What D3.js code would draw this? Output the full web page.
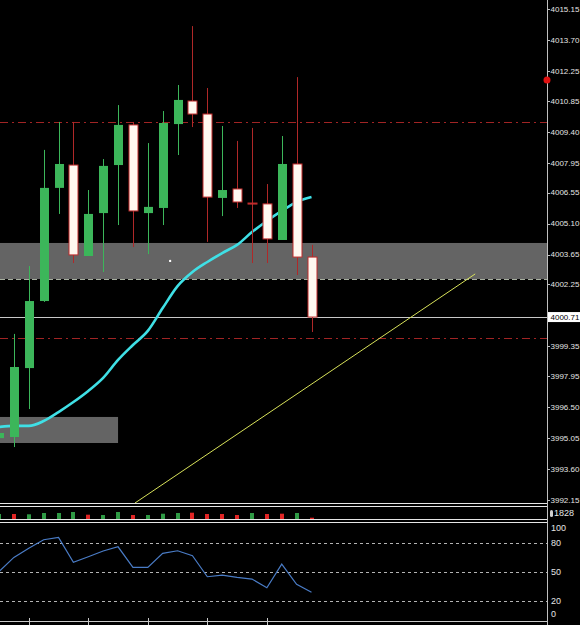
<!DOCTYPE html>
<html>
<head>
<meta charset="utf-8">
<script src="https://cdn.jsdelivr.net/npm/d3@7"></script>
<style>
  body { margin: 0; background: #000; }
  text { font-family: "Liberation Sans", Arial, sans-serif; font-size: 9px; }
  text.price { font-size: 8px; }
</style>
</head>
<body>
<div id="chart"></div>
<script>
// candle data (one bar per period)
var opens  = [3995.05, 3995.10, 3998.33, 4001.47, 4006.77, 4007.84, 4003.58, 4005.59, 4007.84, 4009.72, 4005.59,
              4005.83, 4009.76, 4010.84, 4010.23, 4006.30, 4006.72, 4006.06, 4006.02, 4004.33, 4007.89, 4003.53];
var highs  = [3995.43, 3999.93, 4003.11, 4008.55, 4009.86, 4009.86, 4006.67, 4008.12, 4010.65, 4009.86, 4008.87,
              4010.37, 4011.59, 4014.35, 4011.45, 4009.67, 4008.97, 4009.58, 4006.95, 4009.20, 4011.96, 4004.10];
var lows   = [3994.96, 3994.63, 3996.41, 4001.43, 4005.55, 4003.25, 4003.58, 4002.83, 4005.03, 4004.00, 4003.67,
              4005.03, 4008.31, 4009.62, 4004.24, 4005.45, 4005.83, 4003.25, 4003.25, 4004.33, 4002.69, 4000.02];
var closes = [3995.29, 3998.38, 4001.47, 4006.77, 4007.89, 4003.63, 4005.55, 4007.80, 4009.72, 4005.69, 4005.88,
              4009.81, 4010.89, 4010.23, 4006.34, 4006.67, 4006.11, 4006.02, 4004.38, 4007.89, 4003.53, 4000.72];

// moving average
var maValues = [3995.57, 3995.62, 3995.62, 3995.85, 3996.27, 3996.74, 3997.26, 3997.87, 3998.71, 3999.41, 4000.07,
                4001.14, 4002.17, 4002.83, 4003.30, 4003.72, 4004.10, 4004.70, 4005.22, 4005.69, 4006.11, 4006.34];

// volume panel
var volumes = [1000, 1000, 940, 1200, 1200, 1400, 860, 800, 1400, 800, 800,
               1060, 1200, 1260, 1000, 1000, 800, 1200, 1000, 1060, 1200, 260];
var volumeUp = [1, 0, 1, 1, 1, 1, 0, 1, 1, 0, 1, 1, 1, 0, 0, 0, 0, 1, 0, 0, 1, 0];
var volumeLabel = "1828";

// oscillator panel
var oscValues = [50.4, 65.1, 74.5, 83.4, 85.8, 60.0, 65.8, 71.7, 76.1, 54.8, 54.8,
                 69.3, 72.0, 66.8, 45.1, 46.8, 44.5, 42.7, 33.7, 58.2, 37.2, 29.0];
var oscLevels = [80, 50, 20];
var oscTicks = [100, 80, 50, 20, 0];

// price axis
var priceTicks = [4015.15, 4013.70, 4012.25, 4010.85, 4009.40, 4007.95, 4006.55, 4005.10, 4003.65,
                  4002.25, 3999.35, 3997.95, 3996.50, 3995.05, 3993.60, 3992.15];
var lastPrice = 4000.72;
var lastPriceLabel = "4000.71";
var alertPrice = 4011.82;

// drawn objects
var redLevels = [4009.86, 3999.74];
var upperZone = [4004.19, 4002.50];
var lowerZone = [3996.04, 3994.82, 8];      // top, bottom, end bar
var trendLine = [[9.14, 3992.01], [32.0, 4002.74]];
var marker = [11.5, 4003.35];
var timeTicks = [2, 6, 10, 14, 18];

var W = 580, H = 625, axisX = 547;

var svg = d3.select("#chart").append("svg")
    .attr("width", W).attr("height", H)
    .style("display", "block")
    .style("background", "#000");

var x = d3.scaleLinear().domain([0, 21]).range([-1, 311.5]);
var y = d3.scaleLinear().domain([3992.15, 4015.15]).range([500, 9]);
var yVol = d3.scaleLinear().domain([0, 2400]).range([519, 507]);
var yOsc = d3.scaleLinear().domain([0, 100]).range([620.3, 523.7]);

svg.append("clipPath").attr("id", "mainClip")
    .append("rect").attr("x", 0).attr("y", 0).attr("width", axisX).attr("height", 503);
svg.append("clipPath").attr("id", "oscClip")
    .append("rect").attr("x", 0).attr("y", 522).attr("width", axisX).attr("height", 99);

var main = svg.append("g").attr("clip-path", "url(#mainClip)");

// zones
main.append("rect")
    .attr("x", 0).attr("width", axisX)
    .attr("y", y(upperZone[0])).attr("height", y(upperZone[1]) - y(upperZone[0]))
    .style("fill", "#646464");
main.append("rect")
    .attr("x", 0).attr("width", x(lowerZone[2]))
    .attr("y", y(lowerZone[0])).attr("height", y(lowerZone[1]) - y(lowerZone[0]))
    .style("fill", "#646464");
main.append("line")
    .attr("x1", 0).attr("x2", axisX)
    .attr("y1", Math.round(y(upperZone[1])) + 0.5).attr("y2", Math.round(y(upperZone[1])) + 0.5)
    .style("stroke", "#a8b0a0").style("stroke-dasharray", "5,3");

// red dash-dot levels
main.selectAll(".level")
    .data(redLevels).enter()
    .append("line")
    .attr("x1", 0).attr("x2", axisX)
    .attr("y1", function(d) { return Math.round(y(d)) + 0.5; })
    .attr("y2", function(d) { return Math.round(y(d)) + 0.5; })
    .style("stroke", "#a02424")
    .style("stroke-dasharray", "8,4,2,4");

// last price line
main.append("line")
    .attr("x1", 0).attr("x2", axisX)
    .attr("y1", Math.round(y(lastPrice)) + 0.5).attr("y2", Math.round(y(lastPrice)) + 0.5)
    .style("stroke", "#c8c8c8");

// trend line
main.append("line")
    .attr("x1", x(trendLine[0][0])).attr("y1", y(trendLine[0][1]))
    .attr("x2", x(trendLine[1][0])).attr("y2", y(trendLine[1][1]))
    .style("stroke", "#d8e25a");

// moving average
main.append("path")
    .datum(maValues)
    .attr("d", d3.line()
        .x(function(d, i) { return x(i); })
        .y(function(d) { return y(d); })
        .curve(d3.curveMonotoneX))
    .style("fill", "none")
    .style("stroke", "#3fe0e6")
    .style("stroke-width", 2.6);

// candles
var bars = d3.range(opens.length).map(function(i) {
    return { i: i, o: opens[i], h: highs[i], l: lows[i], c: closes[i] };
});
var candle = main.selectAll(".candle")
    .data(bars).enter()
    .append("g");
candle.append("line")
    .attr("x1", function(d) { return Math.round(x(d.i)) + 0.5; })
    .attr("x2", function(d) { return Math.round(x(d.i)) + 0.5; })
    .attr("y1", function(d) { return y(d.h); })
    .attr("y2", function(d) { return y(d.l); })
    .style("stroke", function(d) { return d.c >= d.o ? "#3cb65a" : "#b02828"; });
candle.append("rect")
    .attr("x", function(d) { return Math.round(x(d.i)) - 4; })
    .attr("width", 9)
    .attr("y", function(d) { return y(Math.max(d.o, d.c)); })
    .attr("height", function(d) { return Math.max(1, Math.abs(y(d.o) - y(d.c))); })
    .style("fill", function(d) { return d.c >= d.o ? "#3cb65a" : "#fff8f0"; })
    .style("stroke", function(d) { return d.c >= d.o ? "none" : "#c02a2a"; });

// small marker
main.append("circle")
    .attr("cx", x(marker[0])).attr("cy", y(marker[1])).attr("r", 1.2)
    .style("fill", "#fff");

// panel borders
[503.5, 506.5, 519.5, 522.5].forEach(function(v) {
    svg.append("line")
        .attr("x1", 0).attr("x2", axisX).attr("y1", v).attr("y2", v)
        .style("stroke", "#e6e6e6");
});

// volume bars
svg.selectAll(".vol")
    .data(volumes).enter()
    .append("rect")
    .attr("x", function(d, i) { return Math.round(x(i)) - 2; })
    .attr("width", 4)
    .attr("y", function(d) { return yVol(d); })
    .attr("height", function(d) { return 519 - yVol(d); })
    .style("fill", function(d, i) { return volumeUp[i] ? "#2f9a45" : "#e02626"; });

// oscillator
var osc = svg.append("g").attr("clip-path", "url(#oscClip)");
osc.selectAll(".osclevel")
    .data(oscLevels).enter()
    .append("line")
    .attr("x1", 0).attr("x2", axisX)
    .attr("y1", function(d) { return Math.round(yOsc(d)) + 0.5; })
    .attr("y2", function(d) { return Math.round(yOsc(d)) + 0.5; })
    .style("stroke", "#b4b4b4")
    .style("stroke-dasharray", "3,3");
osc.append("path")
    .datum(oscValues)
    .attr("d", d3.line()
        .x(function(d, i) { return x(i); })
        .y(function(d) { return yOsc(d); }))
    .style("fill", "none")
    .style("stroke", "#4a7cc6")
    .style("stroke-width", 1.2);

// time axis
svg.append("line")
    .attr("x1", 0).attr("x2", axisX).attr("y1", 621.5).attr("y2", 621.5)
    .style("stroke", "#c8c8c8");
svg.selectAll(".tt")
    .data(timeTicks).enter()
    .append("line")
    .attr("x1", function(d) { return Math.round(x(d)) + 0.5; })
    .attr("x2", function(d) { return Math.round(x(d)) + 0.5; })
    .attr("y1", 618).attr("y2", 625)
    .style("stroke", "#c8c8c8");

// right axis
svg.append("line")
    .attr("x1", axisX + 0.5).attr("x2", axisX + 0.5).attr("y1", 0).attr("y2", H)
    .style("stroke", "#c0c0c0");
svg.selectAll(".pt")
    .data(priceTicks).enter()
    .append("line")
    .attr("x1", axisX).attr("x2", axisX + 3)
    .attr("y1", function(d) { return Math.round(y(d)) + 0.5; })
    .attr("y2", function(d) { return Math.round(y(d)) + 0.5; })
    .style("stroke", "#c0c0c0");
svg.selectAll(".pl")
    .data(priceTicks).enter()
    .append("text")
    .attr("class", "price")
    .attr("x", 550.5)
    .attr("y", function(d) { return y(d); })
    .attr("dy", "0.35em")
    .style("fill", "#e4e4e4")
    .text(function(d) { return d.toFixed(2); });

// last price label
svg.append("rect")
    .attr("x", 548).attr("y", y(lastPrice) - 5).attr("width", 40).attr("height", 10)
    .style("fill", "#fff");
svg.append("text")
    .attr("class", "price")
    .attr("x", 550.5).attr("y", y(lastPrice)).attr("dy", "0.35em")
    .style("fill", "#000")
    .text(lastPriceLabel);

// alert marker
svg.append("circle")
    .attr("cx", axisX).attr("cy", y(alertPrice)).attr("r", 3.5)
    .style("fill", "#e01010");

// volume label
svg.append("rect")
    .attr("x", 550).attr("y", 510).attr("width", 3).attr("height", 7).attr("rx", 1.5)
    .style("fill", "#d0d0d0");
svg.append("text")
    .attr("x", 554).attr("y", 513).attr("dy", "0.35em")
    .style("fill", "#e4e4e4")
    .text(volumeLabel);

// oscillator labels
svg.selectAll(".ol")
    .data(oscTicks).enter()
    .append("text")
    .attr("x", 551)
    .attr("y", function(d) { return Math.min(614, Math.max(528, yOsc(d))); })
    .attr("dy", "0.35em")
    .style("fill", "#e4e4e4")
    .text(function(d) { return d; });
</script>
</body>
</html>
